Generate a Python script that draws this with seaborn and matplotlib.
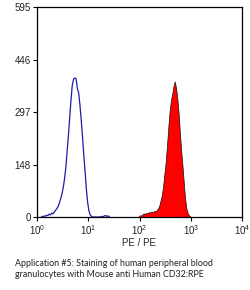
import numpy as np
import pandas as pd
import matplotlib
matplotlib.use("Agg")
import matplotlib.pyplot as plt
import seaborn as sns

# ---- data ----
channel_width = 0.025          # decades per channel
blue_start = 3                 # first channel of the isotype (blue) histogram
blue_counts = [2, 0, 3, 2, 5, 4, 8, 6, 11, 9, 14, 19, 24, 30, 40, 52, 66, 84, 108,
               140, 185, 230, 280, 330, 372, 390, 394, 392, 364, 352, 318, 276,
               228, 176, 130, 80, 42, 18, 6, 2, 0, 0, 0, 0, 0, 0, 0, 2, 0, 3, 4,
               2, 3, 1]
red_start = 79                 # first channel of the stained (red) histogram
red_counts = [2, 5, 4, 8, 10, 9, 12, 11, 14, 13, 15, 14, 17, 16, 20, 24, 33, 48,
              62, 90, 125, 158, 205, 255, 300, 330, 348, 370, 384, 366, 336, 296,
              240, 190, 148, 100, 55, 26, 12, 5, 2]
x_ticks = [0, 1, 2, 3, 4]
x_ticklabels = ["$10^{0}$", "$10^{1}$", "$10^{2}$", "$10^{3}$", "$10^{4}$"]
y_ticks = [0, 148, 297, 446, 595]
x_label = "PE / PE"
caption = ("Application #5: Staining of human peripheral blood\n"
           "granulocytes with Mouse anti Human CD32:RPE")


def hist_frame(start, counts):
    idx = start + np.arange(len(counts))
    df = pd.DataFrame({"logx": (idx + 0.5) * channel_width, "count": counts})
    rng = (start * channel_width, (start + len(counts)) * channel_width)
    return df, rng


sns.set_style("white")
plt.rcParams["font.family"] = ["Liberation Sans", "DejaVu Sans"]
plt.rcParams["mathtext.fontset"] = "custom"
plt.rcParams["mathtext.rm"] = "Liberation Sans"
plt.rcParams["mathtext.it"] = "Liberation Sans"

fig = plt.figure(figsize=(2.5, 2.9), dpi=100)
ax = fig.add_axes([37 / 250, 1 - 217 / 290, (242 - 37) / 250, (217 - 7) / 290])

red_df, red_rng = hist_frame(red_start, red_counts)
sns.histplot(data=red_df, x="logx", weights="count", binwidth=channel_width,
             binrange=red_rng, element="poly", fill=True, color="#ff0000",
             alpha=1, edgecolor="#111111", linewidth=0.5, ax=ax)

blue_df, blue_rng = hist_frame(blue_start, blue_counts)
sns.histplot(data=blue_df, x="logx", weights="count", binwidth=channel_width,
             binrange=blue_rng, element="poly", fill=False, color="#1c1ca8",
             linewidth=0.9, ax=ax)

ax.set_xlim(0, 4)
ax.set_ylim(0, 595)
ax.set_xticks(x_ticks)
ax.set_xticklabels(x_ticklabels)
ax.set_yticks(y_ticks)
ax.set_xlabel(x_label, fontsize=7, labelpad=1)
ax.set_ylabel("")
for s in ax.spines.values():
    s.set_visible(True)
    s.set_color("black")
    s.set_linewidth(0.9)
ax.tick_params(axis="both", direction="out", length=3, width=0.8,
               labelsize=7, pad=1.5, colors="black", labelcolor="#222222",
               bottom=True, left=True)

fig.text(15 / 250, 1 - 259 / 290, caption, fontsize=6.4, va="top", ha="left",
         family=["Lato", "DejaVu Sans"], color="#222222", linespacing=1.3)

fig.savefig("out.png", dpi=100)
